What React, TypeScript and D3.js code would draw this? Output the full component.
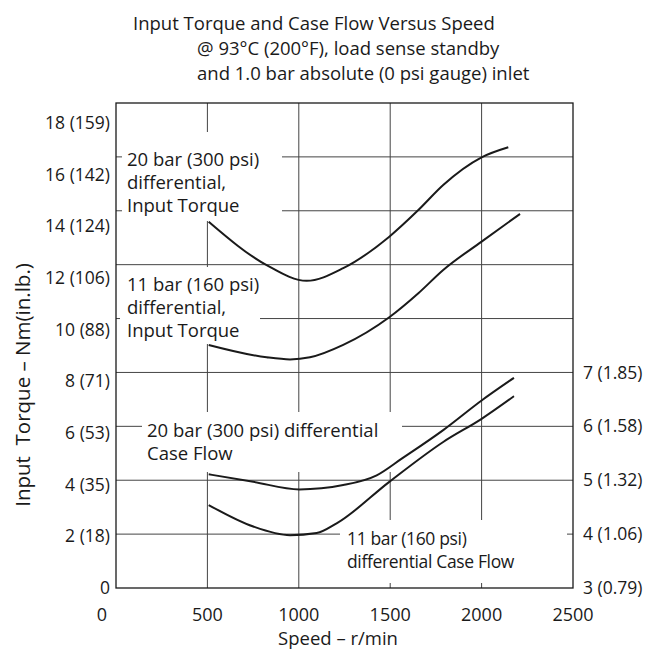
import React from "react";
import * as d3 from "d3";

// ---- data ----
const titleLines = [
  "Input Torque and Case Flow Versus Speed",
  "@ 93°C (200°F), load sense standby",
  "and 1.0 bar absolute (0 psi gauge) inlet",
];
const speedTicks = [0, 500, 1000, 1500, 2000, 2500];
const torqueTicks = [0, 2, 4, 6, 8, 10, 12, 14, 16, 18];
const torqueTickLabels = ["0", "2 (18)", "4 (35)", "6 (53)", "8 (71)", "10 (88)", "12 (106)", "14 (124)", "16 (142)", "18 (159)"];
const flowTicks = [3, 4, 5, 6, 7];
const flowTickLabels = ["3 (0.79)", "4 (1.06)", "5 (1.32)", "6 (1.58)", "7 (1.85)"];
const gridLevels = [4, 5, 6, 7, 8, 9, 10, 11];
const gridSpeeds = [500, 1000, 1500, 2000];

// Input torque (Nm) vs speed
const torque20Speed = [507, 824, 1043, 1243, 1495, 1654, 1790, 2000, 2146];
const torque20Value = [14.18, 12.5, 11.89, 12.38, 13.6, 14.63, 15.6, 16.67, 17.06];
const torque11Speed = [507, 824, 952, 1061, 1243, 1495, 1654, 1790, 2000, 2210];
const torque11Value = [9.41, 8.93, 8.85, 8.93, 9.41, 10.48, 11.41, 12.31, 13.41, 14.48];
// Case flow (l/min) vs speed
const flow20Speed = [507, 751, 1003, 1243, 1426, 1563, 1790, 2000, 2177];
const flow20Value = [5.11, 4.97, 4.83, 4.91, 5.09, 5.4, 5.93, 6.48, 6.9];
const flow11Speed = [507, 751, 952, 1098, 1207, 1495, 1790, 2000, 2177];
const flow11Value = [4.54, 4.14, 3.98, 4.02, 4.2, 4.97, 5.71, 6.14, 6.56];

const FONT = "'Open Sans', sans-serif";

export default function App() {
  const W = 652, H = 652;
  const left = 116, right = 573, top = 103, bottom = 588;

  const x = d3.scaleLinear().domain([0, 2500]).range([left, right]);
  const yT = d3.scaleLinear().domain([0, 18]).range([bottom, 123]);
  const yF = d3.scaleLinear().domain([3, 12]).range([bottom, top]);

  const lineT = d3.line<[number, number]>().x(d => x(d[0])).y(d => yT(d[1])).curve(d3.curveMonotoneX);
  const lineF = d3.line<[number, number]>().x(d => x(d[0])).y(d => yF(d[1])).curve(d3.curveMonotoneX);
  const zip = (a: number[], b: number[]) => a.map((v, i) => [v, b[i]] as [number, number]);

  const gridColor = "#444";
  const ink = "#1a1a1a";

  // white boxes behind the annotation labels (pixel space)
  const boxes = [
    { x0: 122, y0: 132, x1: 282, y1: 221 },
    { x0: 120, y0: 267, x1: 260, y1: 344 },
    { x0: 142, y0: 412, x1: 402, y1: 472 },
    { x0: 340, y0: 520, x1: 567, y1: 583 },
  ];

  const labels = [
    { x: 127, ys: [166, 189, 212], lines: ["20 bar (300 psi)", "differential,", "Input Torque"], ls: 0, fs: 18.5 },
    { x: 127, ys: [291, 314, 337], lines: ["11 bar (160 psi)", "differential,", "Input Torque"], ls: 0, fs: 18.5 },
    { x: 147, ys: [437, 460], lines: ["20 bar (300 psi) differential", "Case Flow"], ls: 0, fs: 18.5 },
    { x: 347, ys: [545, 568], lines: ["11 bar (160 psi)", "differential Case Flow"], ls: -0.35, fs: 17.5 },
  ];

  return (
    <svg width={W} height={H} style={{ position: "absolute", left: 0, top: 0, background: "#fff" }} fontFamily={FONT}>
      <rect x={0} y={0} width={W} height={H} fill="#fff" />
      {/* title */}
      <text x={133} y={30} fontSize={18.5} fill={ink}>{titleLines[0]}</text>
      <text x={197} y={55} fontSize={18.5} fill={ink}>{titleLines[1]}</text>
      <text x={197} y={80} fontSize={18.5} fill={ink}>{titleLines[2]}</text>

      {/* grid */}
      {gridLevels.map(v => (
        <line key={"h" + v} x1={left} x2={right} y1={yF(v)} y2={yF(v)} stroke={gridColor} strokeWidth={1} />
      ))}
      {gridSpeeds.map(s => (
        <line key={"v" + s} x1={x(s)} x2={x(s)} y1={top} y2={bottom} stroke={gridColor} strokeWidth={1} />
      ))}
      {boxes.map((b, i) => (
        <rect key={"b" + i} x={b.x0} y={b.y0} width={b.x1 - b.x0} height={b.y1 - b.y0} fill="#fff" />
      ))}
      {/* frame */}
      <rect x={left} y={top} width={right - left} height={bottom - top} fill="none" stroke={ink} strokeWidth={1.3} />

      {/* curves */}
      <path d={lineT(zip(torque20Speed, torque20Value)) || ""} fill="none" stroke={ink} strokeWidth={2} />
      <path d={lineT(zip(torque11Speed, torque11Value)) || ""} fill="none" stroke={ink} strokeWidth={2} />
      <path d={lineF(zip(flow20Speed, flow20Value)) || ""} fill="none" stroke={ink} strokeWidth={2} />
      <path d={lineF(zip(flow11Speed, flow11Value)) || ""} fill="none" stroke={ink} strokeWidth={2} />

      {/* annotation labels */}
      {labels.map((l, i) => (
        <g key={"l" + i}>
          {l.lines.map((t, j) => (
            <text key={j} x={l.x} y={l.ys[j]} fontSize={l.fs} fill={ink} letterSpacing={l.ls}>{t}</text>
          ))}
        </g>
      ))}

      {/* left axis labels */}
      {torqueTicks.map((v, i) => (
        <text key={"lt" + v} x={110} y={yT(v)} dy="0.35em" textAnchor="end" fontSize={17.5} fill={ink}>{torqueTickLabels[i]}</text>
      ))}
      {/* right axis labels */}
      {flowTicks.map((v, i) => (
        <text key={"rt" + v} x={583} y={yF(v)} dy="0.35em" textAnchor="start" fontSize={17.5} fill={ink}>{flowTickLabels[i]}</text>
      ))}
      {/* x axis labels */}
      {speedTicks.map(s => (
        <text key={"xt" + s} x={x(s) + (s === 0 ? -14 : 0)} y={621} textAnchor="middle" fontSize={18} fill={ink}>{s}</text>
      ))}
      <text x={338} y={645} textAnchor="middle" fontSize={18.5} fill={ink}>Speed – r/min</text>
      <text transform={`translate(30,385) rotate(-90)`} textAnchor="middle" fontSize={20.5} fill={ink} style={{ whiteSpace: "pre" }}>{"Input  Torque – Nm(in.lb.)"}</text>
    </svg>
  );
}
